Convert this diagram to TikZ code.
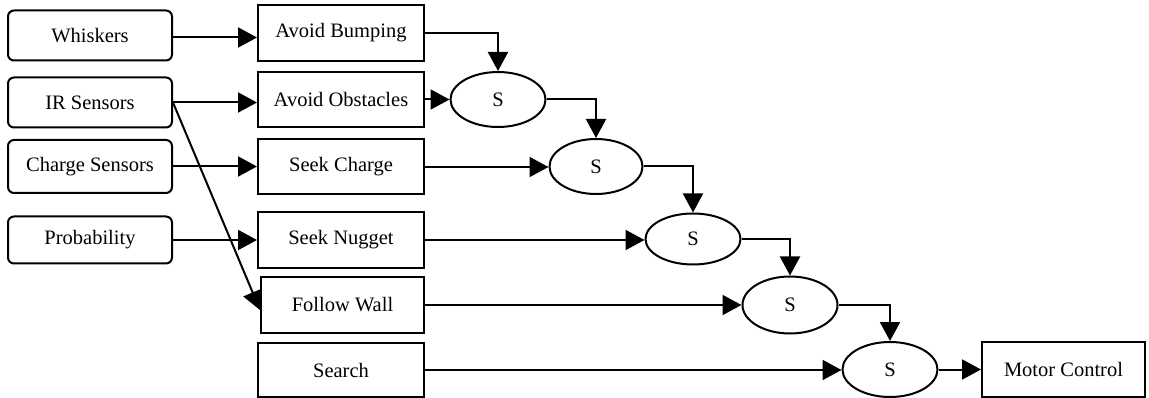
\documentclass[tikz,border=0pt]{standalone}
\usepackage{fontspec}
\setmainfont{Liberation Serif}
\usetikzlibrary{arrows.meta,shapes.geometric,calc}
\begin{document}
\begin{tikzpicture}[x=1pt,y=-1pt,
  every node/.style={font=\fontsize{20.5}{24}\selectfont, inner sep=0pt, line width=2pt},
  sensor/.style={draw, rounded corners=6pt, minimum width=164pt, minimum height=50pt},
  behav/.style={draw, minimum width=166pt, minimum height=55pt},
  supp/.style={draw, ellipse, minimum width=95pt, minimum height=55pt},
  conn/.style={line width=2pt, -{Triangle[length=19pt,width=20pt]}}
]
\useasboundingbox (0,0) rectangle (1149,398);
% sensors
\node[sensor] (wh) at (90,35.5) {Whiskers};
\node[sensor] (ir) at (90,102.5) {IR Sensors};
\node[sensor, minimum height=53pt] (cs) at (90,166.5) {Charge Sensors};
\node[sensor, minimum height=47pt] (pr) at (90,240) {Probability};
% behaviours
\node[behav, minimum height=56pt] (ab) at (341,33) {Avoid Bumping};
\node[behav] (ao) at (341,99.5) {Avoid Obstacles};
\node[behav] (sc) at (341,167) {Seek Charge};
\node[behav, minimum height=56pt] (sn) at (341,240) {Seek Nugget};
\node[behav, minimum width=163pt, minimum height=56pt] (fw) at (342.5,305) {Follow Wall};
\node[behav, minimum height=54pt] (se) at (341,370) {Search};
% suppressors
\node[supp] (s1) at (498,99.5) {S};
\node[supp, minimum width=93pt] (s2) at (596,166.5) {S};
\node[supp, minimum height=51pt] (s3) at (693,239) {S};
\node[supp, minimum height=57pt] (s4) at (790,305) {S};
\node[supp] (s5) at (890,369.5) {S};
\node[draw, minimum width=163pt, minimum height=55pt] (mc) at (1063.5,369.5) {Motor Control};
% connectors
\draw[conn] ([yshift=-2pt]wh.east) -- ([yshift=-2pt]wh.east -| ab.west);
\draw[conn] (ir.east) -- (ir.east -| ao.west);
\draw[conn] (cs.east) -- (cs.east -| sc.west);
\draw[conn] (pr.east) -- (pr.east -| sn.west);
\draw[conn] (ir.east) -- ([yshift=-5pt]fw.west);
\draw[conn] (ab.east) -| (s1.north);
\draw[conn] (ao.east) -- (s1.west);
\draw[conn] (s1.east) -| (s2.north);
\draw[conn] (sc.east) -- (sc.east -| s2.west);
\draw[conn] (s2.east) -| (s3.north);
\draw[conn] (sn.east) -- (sn.east -| s3.west);
\draw[conn] (s3.east) -| (s4.north);
\draw[conn] (fw.east) -- (s4.west);
\draw[conn] (s4.east) -| (s5.north);
\draw[conn] (se.east) -- (se.east -| s5.west);
\draw[conn] (s5.east) -- (mc.west);
\end{tikzpicture}
\end{document}
